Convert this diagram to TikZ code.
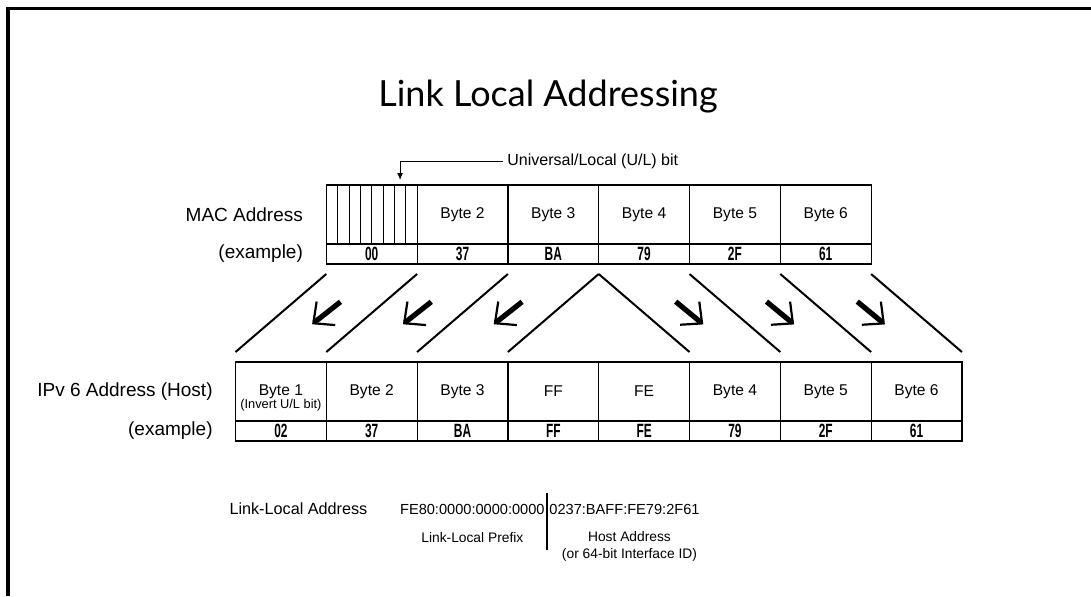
\documentclass[tikz,border=0pt]{standalone}
\usepackage{fontspec}
\setmainfont{Liberation Sans}
\newfontfamily\headfont{Lato}
\newfontfamily\valfont{Liberation Sans}[FakeStretch=0.62]
\usetikzlibrary{arrows.meta, positioning, calc}

\begin{document}
\begin{tikzpicture}[x=0.5pt, y=-0.5pt]
  \tikzset{
    cell/.style={
      draw, line width=.6pt,
      minimum width=45.4pt, minimum height=29.5pt,
      inner sep=0pt, outer sep=0pt,
      font=\fontsize{7.8}{9}\selectfont},
    valcell/.style={
      cell, minimum height=10pt,
      font=\valfont\bfseries\fontsize{9.6}{9}\selectfont},
    rowlabel/.style={
      inner sep=0pt, font=\fontsize{9.5}{11}\selectfont},
    note/.style={
      inner sep=2pt, font=\fontsize{8}{9.5}\selectfont},
    addr/.style={
      inner sep=1pt, font=\fontsize{7.3}{9}\selectfont},
    small/.style={
      inner sep=0pt, align=center, font=\fontsize{6.9}{8.5}\selectfont},
    slant/.style={line width=1pt},
    bigarrow/.style={
      line width=2.6pt,
      -{Straight Barb[length=8pt, width=15pt, line width=1.1pt]}}}

  \useasboundingbox (0,0) rectangle (1091,596);
  \draw[line width=1.7pt] (8,596) -- (8,8.3) -- (1091,8.3);

  \node[font=\headfont\fontsize{18}{22}\selectfont, anchor=base] (heading) at (548,106) {Link Local Addressing};

  % MAC address
  \node[cell, anchor=north west] (mac1) at (326.3,185) {};
  \node[cell] (mac2) [right=0pt of mac1] {Byte 2};
  \node[cell] (mac3) [right=0pt of mac2] {Byte 3};
  \node[cell] (mac4) [right=0pt of mac3] {Byte 4};
  \node[cell] (mac5) [right=0pt of mac4] {Byte 5};
  \node[cell] (mac6) [right=0pt of mac5] {Byte 6};

  \node[valcell] (macv1) [below=0pt of mac1] {00};
  \node[valcell] (macv2) [below=0pt of mac2] {37};
  \node[valcell] (macv3) [below=0pt of mac3] {BA};
  \node[valcell] (macv4) [below=0pt of mac4] {79};
  \node[valcell] (macv5) [below=0pt of mac5] {2F};
  \node[valcell] (macv6) [below=0pt of mac6] {61};

  \node[rowlabel] (maclbl) [left=11.5pt of mac1] {MAC Address};
  \node[rowlabel] (macex) [left=11.5pt of macv1] {(example)};

  % the eight bits of byte 1
  \foreach \b in {1,...,7}
    \draw[line width=.4pt] ([xshift=\b*5.675pt]mac1.north west) -- ([xshift=\b*5.675pt]mac1.south west);

  \node[note, anchor=west] (ulbit) at (503,161.5) {Universal/Local (U/L) bit};
  \coordinate (ulpos) at ([xshift=36.9pt, yshift=2.5pt]mac1.north west);
  \draw[line width=.5pt, -{Latex[length=3.5pt, width=3pt]}] (ulbit.west) -| (ulpos);

  % IPv6 address
  \node[cell, anchor=north west] (ip1) at (235.5,362) {Byte 1};
  \node[cell] (ip2) [right=0pt of ip1] {Byte 2};
  \node[cell] (ip3) [right=0pt of ip2] {Byte 3};
  \node[cell] (ip4) [right=0pt of ip3] {FF};
  \node[cell] (ip5) [right=0pt of ip4] {FE};
  \node[cell] (ip6) [right=0pt of ip5] {Byte 4};
  \node[cell] (ip7) [right=0pt of ip6] {Byte 5};
  \node[cell] (ip8) [right=0pt of ip7] {Byte 6};
  \node[inner sep=0pt, font=\fontsize{6.4}{7}\selectfont] (invert) at ([yshift=-6.8pt]ip1.center) {(Invert U/L bit)};

  \node[valcell] (ipv1) [below=0pt of ip1] {02};
  \node[valcell] (ipv2) [below=0pt of ip2] {37};
  \node[valcell] (ipv3) [below=0pt of ip3] {BA};
  \node[valcell] (ipv4) [below=0pt of ip4] {FF};
  \node[valcell] (ipv5) [below=0pt of ip5] {FE};
  \node[valcell] (ipv6) [below=0pt of ip6] {79};
  \node[valcell] (ipv7) [below=0pt of ip7] {2F};
  \node[valcell] (ipv8) [below=0pt of ip8] {61};

  \node[rowlabel] (iplbl) [left=11.25pt of ip1] {IPv 6 Address (Host)};
  \node[rowlabel] (ipex) [left=11.25pt of ipv1] {(example)};

  % bytes 1-3 shift left, bytes 4-6 shift right
  \draw[slant] ([yshift=-5pt]macv1.south west) -- ([yshift=5pt]ip1.north west);
  \draw[slant] ([yshift=-5pt]macv2.south west) -- ([yshift=5pt]ip2.north west);
  \draw[slant] ([yshift=-5pt]macv3.south west) -- ([yshift=5pt]ip3.north west);
  \draw[slant] ([yshift=-5pt]macv4.south west) -- ([yshift=5pt]ip4.north west);
  \draw[slant] ([yshift=-5pt]macv4.south west) -- ([yshift=5pt]ip6.north west);
  \draw[slant] ([yshift=-5pt]macv5.south west) -- ([yshift=5pt]ip7.north west);
  \draw[slant] ([yshift=-5pt]macv6.south west) -- ([yshift=5pt]ip8.north west);
  \draw[slant] ([yshift=-5pt]macv6.south east) -- ([yshift=5pt]ip8.north east);

  \coordinate (la1) at ($(macv1.south)!.5!(ip1.north)$);
  \coordinate (la2) at ($(macv2.south)!.5!(ip2.north)$);
  \coordinate (la3) at ($(macv3.south)!.5!(ip3.north)$);
  \coordinate (ra1) at ($(macv4.south)!.5!(ip6.north)$);
  \coordinate (ra2) at ($(macv5.south)!.5!(ip7.north)$);
  \coordinate (ra3) at ($(macv6.south)!.5!(ip8.north)$);

  \draw[bigarrow] ([shift={(7.1pt,5.6pt)}]la1) -- ([shift={(-7.1pt,-5.6pt)}]la1);
  \draw[bigarrow] ([shift={(7.1pt,5.6pt)}]la2) -- ([shift={(-7.1pt,-5.6pt)}]la2);
  \draw[bigarrow] ([shift={(7.1pt,5.6pt)}]la3) -- ([shift={(-7.1pt,-5.6pt)}]la3);
  \draw[bigarrow] ([shift={(-6.9pt,5.7pt)}]ra1) -- ([shift={(6.9pt,-5.7pt)}]ra1);
  \draw[bigarrow] ([shift={(-6.9pt,5.7pt)}]ra2) -- ([shift={(6.9pt,-5.7pt)}]ra2);
  \draw[bigarrow] ([shift={(-6.9pt,5.7pt)}]ra3) -- ([shift={(6.9pt,-5.7pt)}]ra3);

  % resulting link-local address
  \coordinate (split) at (547,509);
  \node[addr] (pfx) [left=0pt of split] {FE80:0000:0000:0000};
  \node[addr] (hostid) [right=0pt of split] {0237:BAFF:FE79:2F61};
  \node[rowlabel, font=\fontsize{8.1}{10}\selectfont] (lladdr) [left=15pt of pfx] {Link-Local Address};
  \node[small] (pfxnote) at ([yshift=-14.5pt]pfx.center) {Link-Local Prefix};
  \node[small] (hostnote) at ([xshift=2.5pt, yshift=-18.7pt]hostid.center) {Host Address\\(or 64-bit Interface ID)};
  \draw[line width=.6pt] ([yshift=8pt]split) -- ([yshift=-20.5pt]split);

\end{tikzpicture}
\end{document}
